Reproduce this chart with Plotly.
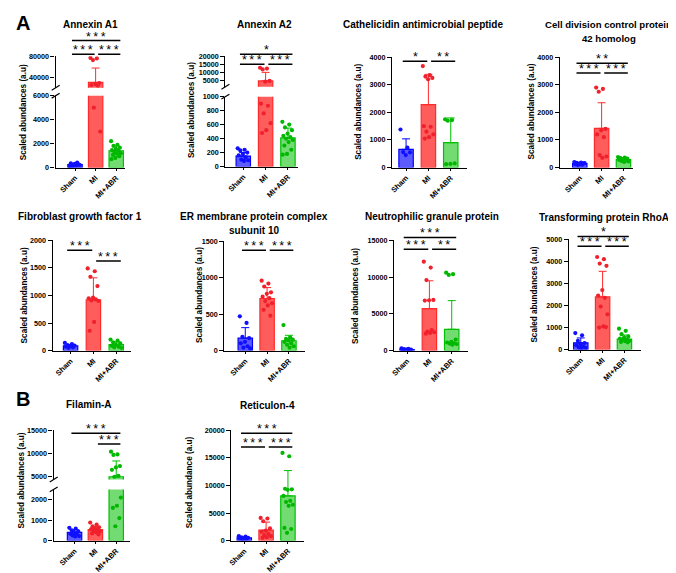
import plotly.graph_objects as go

W, H = 676, 573
GROUPS = ["Sham", "MI", "MI+ABR"]

# ---------------- data ----------------
annexin_a1_mean = [250, 31000, 1400]
annexin_a1_sd = [100, 27000, 400]
annexin_a1_sham = [120, 180, 200, 250, 300, 350, 420, 150, 220, 280]
annexin_a1_mi = [77000, 76000, 73000, 30000, 28000, 26000, 25000, 5000, 3000]
annexin_a1_abr = [2200, 1900, 1800, 1650, 1550, 1450, 1400, 1300, 1200, 1150, 1050, 950, 800, 700]

annexin_a2_mean = [150, 5000, 410]
annexin_a2_sd = [50, 5200, 140]
annexin_a2_sham = [260, 240, 230, 200, 180, 160, 130, 100, 90, 80]
annexin_a2_mi = [13000, 12500, 12000, 5000, 4500, 900, 870, 760, 620, 520, 480]
annexin_a2_abr = [640, 600, 560, 520, 470, 440, 420, 400, 380, 350, 300, 240, 180, 170]

cathelicidin_mean = [660, 2280, 900]
cathelicidin_sd = [380, 1100, 900]
cathelicidin_sham = [1380, 720, 560, 550, 450]
cathelicidin_mi = [3680, 3350, 3300, 3250, 3200, 1500, 1480, 1300, 1200, 1100, 1050]
cathelicidin_abr = [1750, 1720, 1700, 150, 130, 120]

cdc42_mean = [140, 1420, 285]
cdc42_sd = [40, 930, 60]
cdc42_sham = [200, 180, 170, 150, 130, 120, 100, 90, 160, 140]
cdc42_mi = [2900, 2850, 2750, 1400, 1350, 1200, 1100, 450, 400, 350]
cdc42_abr = [380, 360, 340, 320, 300, 280, 260, 240, 220, 200]

fgf1_mean = [85, 920, 110]
fgf1_sd = [25, 400, 50]
fgf1_sham = [140, 120, 100, 90, 80, 70, 60, 50]
fgf1_mi = [1490, 1440, 1340, 1170, 960, 950, 930, 910, 900, 520, 360]
fgf1_abr = [200, 180, 150, 130, 110, 90, 70, 60, 50]

emc10_mean = [170, 715, 135]
emc10_sd = [145, 150, 75]
emc10_sham = [470, 380, 190, 170, 120, 100, 60, 40, 30]
emc10_mi = [960, 920, 880, 800, 780, 740, 720, 680, 650, 620, 560, 480]
emc10_abr = [350, 180, 160, 150, 140, 120, 100, 80, 60, 40]

ngp_mean = [150, 5700, 2900]
ngp_sd = [60, 3800, 3900]
ngp_sham = [300, 250, 200, 150, 120, 100, 80]
ngp_mi = [12100, 11300, 9600, 6900, 6850, 6800, 2800, 2600, 2500, 2400, 2300]
ngp_abr = [10600, 10400, 10300, 1500, 1200, 1100, 1000, 950, 900, 800]

rhoa_mean = [310, 2390, 480]
rhoa_sd = [220, 1160, 180]
rhoa_sham = [750, 650, 400, 300, 250, 200, 150, 100, 80, 60]
rhoa_mi = [4200, 4100, 3900, 3800, 2700, 2450, 2350, 1950, 1600, 1050, 1000, 1020]
rhoa_abr = [950, 850, 700, 600, 550, 500, 450, 420, 400, 380, 350, 330]

filamin_mean = [400, 530, 5000]
filamin_sd = [130, 150, 3400]
filamin_sham = [620, 580, 500, 450, 380, 330, 300, 250, 220, 200]
filamin_mi = [880, 780, 700, 650, 600, 560, 520, 480, 450, 400, 350, 300]
filamin_abr = [10400, 9800, 9700, 7300, 7000, 6500, 5200, 5000, 2100, 1700, 1600, 1100, 700]

rtn4_mean = [500, 1900, 8100]
rtn4_sd = [150, 1450, 4600]
rtn4_sham = [800, 700, 600, 500, 450, 400, 350, 300]
rtn4_mi = [4100, 4000, 3500, 2200, 1800, 1600, 1200, 1000, 800, 600, 500]
rtn4_abr = [15900, 15300, 9400, 9300, 9200, 8100, 7200, 7000, 6500, 6300, 2300, 2100, 1400]

# ---------------- styling ----------------
FONT = "Arial, Liberation Sans, sans-serif"
FILL = ["#5b5bff", "#ff5c5c", "#72dc72"]
EDGE = ["#0000ff", "#ff2b2b", "#00c000"]
DOT = ["#1010ff", "#f0202c", "#00b800"]
TS = "\u2009"

panels = [
    dict(title=["Annexin A1"], tx=78, ty=13, ytitle="Scaled abundances (a.u)", ytx=10, yty=102,
         x0=43, x1=113, c0=62.5, c2=104,
         segs=[dict(ybot=158, ytop=85, rng=[0, 6000], ticks=[0, 2000, 4000, 6000]),
               dict(ybot=77, ytop=45, rng=[21000, 80000], ticks=[40000, 80000])],
         sig=[(0, 2, "***", 29), (0, 1, "***", 43), (1, 2, "***", 43)],
         mean=annexin_a1_mean, sd=annexin_a1_sd, pts=[annexin_a1_sham, annexin_a1_mi, annexin_a1_abr]),
    dict(title=["Annexin A2"], tx=253, ty=13, ytitle="Scaled abundances (a.u)", ytx=180, yty=100,
         x0=214, x1=287, c0=232, c2=277,
         segs=[dict(ybot=157, ytop=86, rng=[0, 1000], ticks=[0, 200, 400, 600, 800, 1000]),
               dict(ybot=76, ytop=45, rng=[1400, 20000], ticks=[5000, 10000, 15000, 20000])],
         sig=[(0, 2, "*", 43), (0, 1, "***", 53), (1, 2, "***", 53)],
         mean=annexin_a2_mean, sd=annexin_a2_sd, pts=[annexin_a2_sham, annexin_a2_mi, annexin_a2_abr]),
    dict(title=["Cathelicidin antimicrobial peptide"], tx=413, ty=13, ytitle="Scaled abundances (a.u)", ytx=348, yty=101,
         x0=382, x1=457, c0=396, c2=441,
         segs=[dict(ybot=158, ytop=46, rng=[0, 4000], ticks=[0, 1000, 2000, 3000, 4000])],
         sig=[(0, 1, "*", 50), (1, 2, "**", 50)],
         mean=cathelicidin_mean, sd=cathelicidin_sd, pts=[cathelicidin_sham, cathelicidin_mi, cathelicidin_abr]),
    dict(title=["Cell division control protein", "42 homolog"], tx=600, ty=13, ytitle="Scaled abundances (a.u)", ytx=522, yty=101,
         x0=551, x1=625, c0=571, c2=615, tsize=9.6,
         segs=[dict(ybot=158, ytop=46, rng=[0, 4000], ticks=[0, 1000, 2000, 3000, 4000])],
         sig=[(0, 2, "**", 52), (0, 1, "***", 62), (1, 2, "***", 62)],
         mean=cdc42_mean, sd=cdc42_sd, pts=[cdc42_sham, cdc42_mi, cdc42_abr]),
    dict(title=["Fibroblast growth factor 1"], tx=68, ty=208, ytitle="Scaled abundances (a.u)", ytx=12, yty=288,
         x0=40, x1=119, c0=58, c2=104,
         segs=[dict(ybot=344, ytop=232, rng=[0, 2000], ticks=[0, 500, 1000, 1500, 2000])],
         sig=[(0, 1, "***", 242), (1, 2, "***", 253)],
         mean=fgf1_mean, sd=fgf1_sd, pts=[fgf1_sham, fgf1_mi, fgf1_abr]),
    dict(title=["ER membrane protein complex", "subunit 10"], tx=243, ty=208, ytitle="Scaled abundances (a.u)", ytx=188, yty=288,
         x0=213, x1=294, c0=234, c2=278,
         segs=[dict(ybot=344, ytop=233, rng=[0, 1500], ticks=[0, 500, 1000, 1500])],
         sig=[(0, 1, "***", 242), (1, 2, "***", 242)],
         mean=emc10_mean, sd=emc10_sd, pts=[emc10_sham, emc10_mi, emc10_abr]),
    dict(title=["Neutrophilic granule protein"], tx=422, ty=208, ytitle="Scaled abundances (a.u)", ytx=345, yty=288,
         x0=384, x1=458, c0=397, c2=442,
         segs=[dict(ybot=344, ytop=232, rng=[0, 15000], ticks=[0, 5000, 10000, 15000])],
         sig=[(0, 2, "***", 229), (0, 1, "***", 241), (1, 2, "**", 241)],
         mean=ngp_mean, sd=ngp_sd, pts=[ngp_sham, ngp_mi, ngp_abr]),
    dict(title=["Transforming protein RhoA"], tx=595, ty=209, ytitle="Scaled abundances (a.u)", ytx=525, yty=287,
         x0=560, x1=633, c0=572, c2=616,
         segs=[dict(ybot=343, ytop=231, rng=[0, 5000], ticks=[0, 1000, 2000, 3000, 4000, 5000])],
         sig=[(0, 2, "*", 228), (0, 1, "***", 238), (1, 2, "***", 238)],
         mean=rhoa_mean, sd=rhoa_sd, pts=[rhoa_sham, rhoa_mi, rhoa_abr]),
    dict(title=["Filamin-A"], tx=77, ty=399, ytitle="Scaled abundances (a.u)", ytx=9, yty=476,
         x0=41, x1=118, c0=62, c2=104,
         segs=[dict(ybot=537, ytop=485, rng=[0, 2500], ticks=[0, 1000, 2000]),
               dict(ybot=475, ytop=425, rng=[4400, 15000], ticks=[5000, 10000, 15000])],
         sig=[(0, 2, "***", 428), (1, 2, "***", 439)],
         mean=filamin_mean, sd=filamin_sd, pts=[filamin_sham, filamin_mi, filamin_abr]),
    dict(title=["Reticulon-4"], tx=256, ty=400, ytitle="Scaled abundance (a.u)", ytx=178, yty=478,
         x0=220, x1=293, c0=233, c2=277,
         segs=[dict(ybot=537, ytop=425, rng=[0, 20000], ticks=[0, 5000, 10000, 15000, 20000])],
         sig=[(0, 2, "***", 428), (0, 1, "***", 442), (1, 2, "***", 442)],
         mean=rtn4_mean, sd=rtn4_sd, pts=[rtn4_sham, rtn4_mi, rtn4_abr]),
]


def px(x):
    return x / W


def py(y):
    return 1 - y / H


fig = go.Figure()
layout = {}
shapes = []
annotations = []
xn = 0
yn = 0

for p in panels:
    xn += 1
    xname = "xaxis" if xn == 1 else f"xaxis{xn}"
    xref = "x" if xn == 1 else f"x{xn}"
    s = (p["c2"] - p["c0"]) / 2.0
    r0 = (p["x0"] - p["c0"]) / s
    r1 = 2 + (p["x1"] - p["c2"]) / s
    bw = 14.5 / s
    yrefs = []
    for k, seg in enumerate(p["segs"]):
        yn += 1
        yname = "yaxis" if yn == 1 else f"yaxis{yn}"
        yref = "y" if yn == 1 else f"y{yn}"
        yrefs.append((yref, seg))
        layout[yname] = dict(
            domain=[py(seg["ybot"]), py(seg["ytop"])], range=seg["rng"], anchor=xref,
            showline=True, linecolor="black", linewidth=1.4, ticks="outside", ticklen=4,
            tickwidth=1.4, tickcolor="black", tickvals=seg["ticks"],
            ticktext=[str(v) for v in seg["ticks"]], showgrid=False, zeroline=False,
            tickfont=dict(family=FONT, size=7.2, color="#000000", weight="bold"),
        )
    layout[xname] = dict(
        domain=[px(p["x0"]), px(p["x1"])], range=[r0, r1], anchor=yrefs[0][0],
        showline=True, linecolor="black", linewidth=1.4, ticks="outside", ticklen=2,
        tickwidth=1.4, tickcolor="black", tickvals=[0, 1, 2], ticktext=GROUPS,
        tickangle=-45, showgrid=False, zeroline=False,
        tickfont=dict(family=FONT, size=7.5, color="#000000", weight="bold"),
    )
    for yref, seg in yrefs:
        lo, hi = seg["rng"]
        for g in range(3):
            m = p["mean"][g]
            top = m + p["sd"][g]
            if top <= lo:
                continue  # nothing of this bar reaches this axis segment
            show_bar = m > lo
            fig.add_trace(go.Bar(
                x=[g], y=[m], width=bw, xaxis=xref, yaxis=yref,
                marker=dict(color=FILL[g] if show_bar else "rgba(0,0,0,0)",
                            line=dict(color=EDGE[g] if show_bar else "rgba(0,0,0,0)", width=1.2)),
                error_y=dict(type="data", symmetric=False, array=[p["sd"][g]], arrayminus=[0],
                             color=EDGE[g], thickness=1, width=4, visible=top > lo),
                showlegend=False, hoverinfo="skip",
            ))
        for g in range(3):
            vals = p["pts"][g]
            xs, ys = [], []
            for k, v in enumerate(vals):
                if lo <= v <= hi:
                    xs.append(g + (((k * 0.618) % 1.0) - 0.5) * 0.5)
                    ys.append(v)
            if not ys:
                continue
            fig.add_trace(go.Scatter(
                x=xs, y=ys, mode="markers", xaxis=xref, yaxis=yref,
                marker=dict(color=DOT[g], size=4.2), showlegend=False, hoverinfo="skip",
            ))
    # axis break marks
    if len(p["segs"]) > 1:
        for yy in (p["segs"][0]["ytop"], p["segs"][1]["ybot"]):
            shapes.append(dict(type="line", xref="paper", yref="paper",
                               x0=px(p["x0"] - 4), y0=py(yy + 2.5), x1=px(p["x0"] + 4), y1=py(yy - 2.5),
                               line=dict(color="black", width=1.2)))
    # significance brackets
    for (i, j, stars, yl) in p["sig"]:
        xa = i - 0.15 if i == 0 else i + 0.12
        xb = j + 0.2 if j == 2 else j - 0.05
        shapes.append(dict(type="line", xref=xref, yref="paper", x0=xa, x1=xb,
                           y0=py(yl), y1=py(yl), line=dict(color="black", width=1.5)))
        annotations.append(dict(x=(xa + xb) / 2, y=py(yl), xref=xref, yref="paper",
                                text=TS.join(stars), showarrow=False, yanchor="bottom", yshift=-5,
                                font=dict(family=FONT, size=12.5, color="black")))
    # titles
    for li, line in enumerate(p["title"]):
        annotations.append(dict(x=px(p["tx"]), y=py(p["ty"] + 13.5 * li), xref="paper", yref="paper",
                                text=line, showarrow=False, xanchor="center", yanchor="middle",
                                font=dict(family=FONT, size=p.get("tsize", 10), color="black",
                                          weight="bold")))
    annotations.append(dict(x=px(p["ytx"]), y=py(p["yty"]), xref="paper", yref="paper",
                            text=p["ytitle"], showarrow=False, textangle=-90,
                            xanchor="center", yanchor="middle",
                            font=dict(family=FONT, size=8.2, color="black", weight="bold")))

for lab, (lx, ly) in (("A", (10, 11)), ("B", (10, 393))):
    annotations.append(dict(x=px(lx), y=py(ly), xref="paper", yref="paper", text=lab,
                            showarrow=False, xanchor="center", yanchor="middle",
                            font=dict(family=FONT, size=20, color="black", weight="bold")))

fig.update_layout(
    width=W, height=H, margin=dict(l=0, r=0, t=0, b=0),
    plot_bgcolor="white", paper_bgcolor="white", barmode="overlay",
    shapes=shapes, annotations=annotations, showlegend=False, **layout,
)

fig.write_html("out.html")
